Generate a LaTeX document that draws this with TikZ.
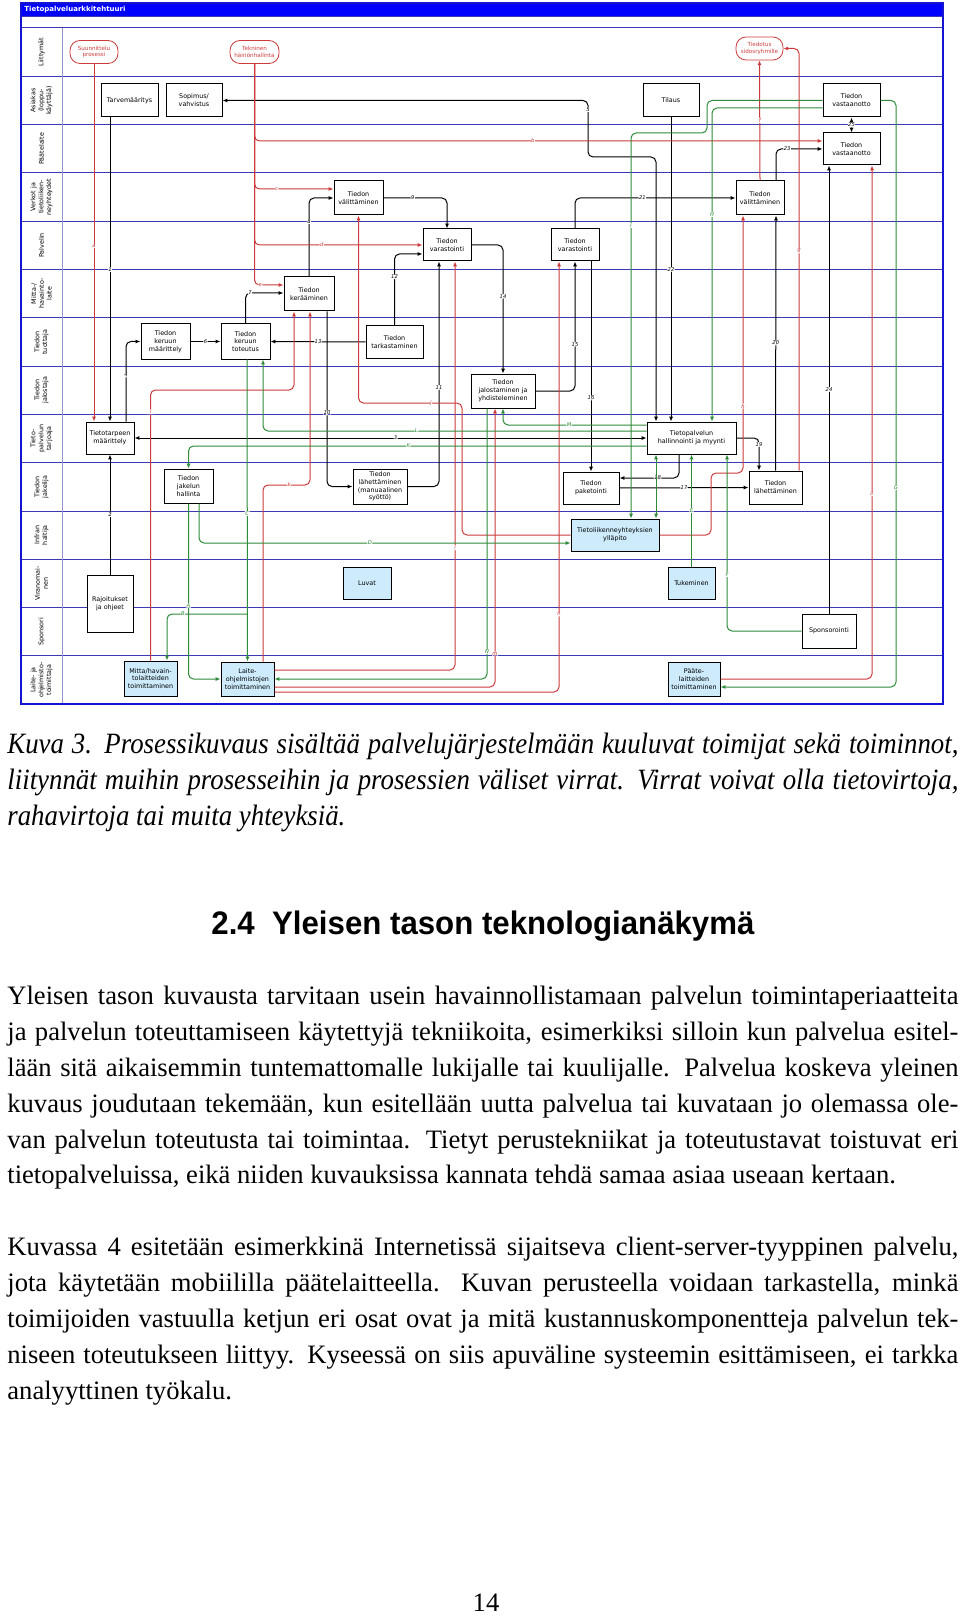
\documentclass[tikz,border=0pt]{standalone}
\usepackage{fontspec}
\usepackage{graphicx}
\setmainfont{Liberation Serif}
\setsansfont{DejaVu Sans}
\newfontfamily\headfont{Liberation Sans}
\usetikzlibrary{arrows.meta,calc}
\definecolor{laneblue}{HTML}{3A3AB4}
\definecolor{frameblue}{HTML}{1414D2}
\definecolor{titleblue}{HTML}{0000FF}
\definecolor{flowred}{HTML}{CC3B3B}
\definecolor{flowgreen}{HTML}{2E8B3A}
\definecolor{boxfill}{HTML}{CDEBFB}

\begin{document}
\begin{tikzpicture}[
  x=0.5pt, y=-0.5pt,
  >={Latex[length=2.4pt,width=2pt]},
  box/.style={draw, line width=0.5pt, fill=white, align=center, inner sep=0pt, font=\sffamily\fontsize{3.2}{3.9}\selectfont},
  supbox/.style={box, fill=boxfill},
  iface/.style={draw=flowred, text=flowred, rounded corners=5pt, fill=white, align=center, inner sep=0pt, line width=0.4pt, font=\sffamily\fontsize{2.8}{3.4}\selectfont},
  lanelbl/.style={rotate=90, align=center, inner sep=0pt, font=\sffamily\fontsize{3.2}{3.9}\selectfont},
  laneline/.style={laneblue, line width=0.5pt},
  blk/.style={draw=black, color=black, line width=0.5pt, rounded corners=2.5pt, ->},
  redf/.style={blk, draw=flowred, color=flowred},
  grnf/.style={blk, draw=flowgreen, color=flowgreen},
  lbl/.style={fill=white, inner sep=0.2pt, font=\sffamily\itshape\fontsize{2.6}{2.6}\selectfont},
  bodyline/.style={anchor=base west, inner sep=0pt, font=\fontsize{13.3}{15}\selectfont},
  capline/.style={bodyline, font=\itshape\fontsize{13.4}{15}\selectfont}
]
\useasboundingbox (0,0) rectangle (960,1615);
\fill[white] (0,0) rectangle (960,1615);

% lanes
\fill[titleblue] (21,3) rectangle (943,17);
\node[anchor=west, text=white, inner sep=0pt, font=\sffamily\bfseries\fontsize{3.5}{4}\selectfont] (title) at (24,10) {Tietopalveluarkkitehtuuri};
\draw[laneline] (21,17) -- (943,17);
\foreach \i in {0,...,13} {
  \draw[laneline] (21,{28+48.3*\i}) -- (943,{28+48.3*\i});
}
\draw[laneblue!55, line width=0.5pt] (62,28) -- (62,704);
\foreach \i/\txt in {0/Liittymät, 1/{Asiakas\\(loppu-\\käyttäjä)}, 2/Päätelaite,
  3/{Verkot ja\\tietoliiken-\\neyhteydet}, 4/Palvelin, 5/{Mitta-/\\havainto-\\laite},
  6/{Tiedon\\tuottaja}, 7/{Tiedon\\jalostaja}, 8/{Tieto-\\palvelun\\tarjoaja},
  9/{Tiedon\\jakelija}, 10/{Infran\\haltija}, 11/{Viranomai-\\nen}, 12/Sponsori,
  13/{Laite- ja\\ohjelmisto-\\toimittaja}} {
  \node[lanelbl] (lane\i) at (41.5,{52.15+48.3*\i}) {\txt};
}
\draw[frameblue, line width=1pt] (21,3) rectangle (943,704);

% interfaces
\node[iface, minimum width=24pt, minimum height=11.5pt] (suun) at (94,52) {Suunnittelu\\prosessi};
\node[iface, minimum width=24.5pt, minimum height=11.5pt] (tekn) at (254.5,52) {Tekninen\\häiriönhallinta};
\node[iface, minimum width=23.5pt, minimum height=11.5pt] (tiedotus) at (759.5,48.5) {Tiedotus\\sidosryhmille};

% activities
\node[box, minimum width=28.5pt, minimum height=16.5pt] (tarve) at (129.5,100.5) {Tarvemääritys};
\node[box, minimum width=28pt, minimum height=16.5pt] (sopimus) at (194,100.5) {Sopimus/\\vahvistus};
\node[box, minimum width=28pt, minimum height=16.5pt] (tilaus) at (671,100.5) {Tilaus};
\node[box, minimum width=28.5pt, minimum height=16.5pt] (vast1) at (851.5,100.5) {Tiedon\\vastaanotto};
\node[box, minimum width=28.5pt, minimum height=16pt] (vast2) at (851.5,149) {Tiedon\\vastaanotto};
\node[box, minimum width=24.5pt, minimum height=17pt] (valit1) at (358.5,198) {Tiedon\\välittäminen};
\node[box, minimum width=24pt, minimum height=17pt] (valit2) at (760,198) {Tiedon\\välittäminen};
\node[box, minimum width=24pt, minimum height=16pt] (var1) at (447,245) {Tiedon\\varastointi};
\node[box, minimum width=24pt, minimum height=16pt] (var2) at (575,245) {Tiedon\\varastointi};
\node[box, minimum width=25pt, minimum height=17pt] (keraa) at (309,294) {Tiedon\\kerääminen};
\node[box, minimum width=24.5pt, minimum height=17.5pt] (kmaar) at (165.5,341.5) {Tiedon\\keruun\\määrittely};
\node[box, minimum width=24.5pt, minimum height=17.5pt] (ktot) at (245.5,341.5) {Tiedon\\keruun\\toteutus};
\node[box, minimum width=28.5pt, minimum height=16pt] (tark) at (394.5,342) {Tiedon\\tarkastaminen};
\node[box, minimum width=32pt, minimum height=17pt] (jalo) at (503,391) {Tiedon\\jalostaminen ja\\yhdisteleminen};
\node[box, minimum width=24pt, minimum height=16pt] (ttarve) at (110,438) {Tietotarpeen\\määrittely};
\node[box, minimum width=44.5pt, minimum height=16pt] (tpalv) at (691.5,438) {Tietopalvelun\\hallinnointi ja myynti};
\node[box, minimum width=24.5pt, minimum height=17pt] (jakhal) at (188.5,486) {Tiedon\\jakelun\\hallinta};
\node[box, minimum width=27pt, minimum height=17.5pt] (lahman) at (380,486.5) {Tiedon\\lähettäminen\\(manuaalinen\\syöttö)};
\node[box, minimum width=28pt, minimum height=16pt] (paket) at (591,488) {Tiedon\\paketointi};
\node[box, minimum width=26.5pt, minimum height=16.5pt] (lah2) at (775.5,487.5) {Tiedon\\lähettäminen};
\node[supbox, minimum width=44pt, minimum height=16pt] (tlyp) at (615,535) {Tietoliikenneyhteyksien\\ylläpito};
\node[supbox, minimum width=24pt, minimum height=16pt] (luvat) at (367,583) {Luvat};
\node[supbox, minimum width=23.5pt, minimum height=16pt] (tuki) at (691.5,583) {Tukeminen};
\node[box, minimum width=23pt, minimum height=28.5pt] (rajo) at (110,603.5) {Rajoitukset\\ja ohjeet};
\node[box, minimum width=27pt, minimum height=17pt] (spons) at (829,631) {Sponsorointi};
\node[supbox, minimum width=26.5pt, minimum height=17.5pt] (mitta) at (150.5,678.5) {Mitta/havain-\\tolaitteiden\\toimittaminen};
\node[supbox, minimum width=26.5pt, minimum height=17pt] (laite) at (247.5,679) {Laite-\\ohjelmistojen\\toimittaminen};
\node[supbox, minimum width=26pt, minimum height=17pt] (paate) at (694,679) {Pääte-\\laitteiden\\toimittaminen};

% black flows
\draw[blk] ($(tarve.south)+(-19.5,0)$) -- node[lbl]{1} (ttarve.north);
\draw[blk] (rajo.north) -- node[lbl]{2} (ttarve.south);
\draw[blk,<->] (tpalv.west) -- node[lbl,pos=0.49]{3} (ttarve.east);
\draw[blk] ($(ttarve.north)+(16,0)$) |- node[lbl,pos=0.29]{4} (kmaar.west);
\draw[blk,<->] ($(tpalv.north)+(-35.5,0)$) |- (588,157) |- node[lbl,pos=0.42]{5} (sopimus.east);
\draw[blk] (kmaar.east) -- node[lbl]{6} (ktot.west);
\draw[blk] (ktot.north) |- node[lbl,pos=0.56]{7} ($(keraa.west)+(0,-1)$);
\draw[blk] (keraa.north) |- node[lbl,pos=0.35]{8} (valit1.west);
\draw[blk] (valit1.east) -| node[lbl,pos=0.23]{9} (var1.north);
\draw[blk] ($(keraa.south)+(18,0)$) |- node[lbl,pos=0.29]{10} (lahman.west);
\draw[blk] (lahman.east) -| node[lbl,pos=0.72]{11} ($(var1.south)+(-8,0)$);
\draw[blk] (tark.north) |- node[lbl,pos=0.34]{12} ($(var1.west)+(0,9)$);
\draw[blk] (tark.west) -- node[lbl]{13} (ktot.east);
\draw[blk] (var1.east) -| node[lbl,pos=0.7]{14} (jalo.north);
\draw[blk] (jalo.east) -| node[lbl,pos=0.68]{15} (var2.south);
\draw[blk] ($(var2.south)+(16,0)$) -- node[lbl,pos=0.65]{16} (paket.north);
\draw[blk] (paket.east) -- node[lbl]{17} (lah2.west);
\draw[blk] ($(tpalv.south)+(-12.5,0)$) |- node[lbl,pos=0.68]{18} ($(paket.east)+(0,-10)$);
\draw[blk] (tpalv.east) -| node[lbl,pos=0.6]{19} ($(lah2.north)+(-16.5,0)$);
\draw[blk] (lah2.north) -- node[lbl]{20} ($(valit2.south)+(16,0)$);
\draw[blk] (var2.north) |- node[lbl,pos=0.71]{21} (valit2.west);
\draw[blk] (tilaus.south) -- node[lbl]{22} ($(tpalv.north)+(-20.5,0)$);
\draw[blk] ($(valit2.north)+(16,0)$) |- node[lbl,pos=0.62]{23} (vast2.west);
\draw[blk] (spons.north) -- node[lbl]{24} ($(vast2.south)+(-22.5,0)$);
\draw[blk,<->] (vast1.south) -- node[lbl]{25} (vast2.north);

% red flows
\draw[redf] (suun.south) -- node[lbl,pos=0.51]{a} ($(ttarve.north)+(-16,0)$);
\draw[redf] (tekn.south) |- node[lbl,pos=0.745]{b} ($(vast2.west)+(0,-8)$);
\draw[redf] (tekn.south) |- node[lbl,pos=0.64]{c} ($(valit1.west)+(0,-9)$);
\draw[redf] (tekn.south) |- node[lbl,pos=0.7]{d} (var1.west);
\draw[redf] (tekn.south) |- node[lbl,pos=0.6]{e} ($(keraa.west)+(0,-9)$);
\draw[redf] (valit2.north) -- node[lbl]{f} (tiedotus.south);
\draw[redf] ($(lah2.north)+(23.5,0)$) |- node[lbl,pos=0.26]{g} (tiedotus.east);
\draw[redf] (tlyp.east) -| (711,473) -| node[lbl,pos=0.63]{h} ($(valit2.south)+(-17,0)$);
\draw[redf] (mitta.north) |- node[lbl,pos=0.46]{i} (294,390) -- ($(keraa.south)+(-15,0)$);
\draw[redf] (tlyp.west) -| (462,403) -| node[lbl,pos=0.15]{j} (valit1.south);
\draw[redf] ($(laite.north)+(15.5,0)$) |- node[lbl,pos=0.78]{k} (310,485) -- ($(keraa.south)+(1,0)$);
\draw[redf] ($(laite.east)+(0,-9)$) -| node[lbl,pos=0.65]{l} ($(var1.south)+(8,0)$);
\draw[redf] ($(laite.east)+(0,8)$) -| node[lbl,pos=0.56]{m} ($(jalo.south)+(-8,0)$);
\draw[redf] ($(laite.east)+(0,13)$) -| node[lbl,pos=0.59]{n} ($(var2.south)+(-16,0)$);
\draw[redf] (paate.east) -| node[lbl,pos=0.68]{o} ($(vast2.south)+(20.5,0)$);

% green flows
\coordinate (cB) at (247,614);
\draw[grnf] (jakhal.south) |- node[lbl,pos=0.29]{A} (laite.west);
\draw[grnf] (cB) -| node[lbl,pos=0.4]{B} ($(mitta.north)+(16.5,0)$);
\draw[grnf] ($(ktot.south)+(1.5,0)$) -- node[lbl,pos=0.51]{C} (laite.north);
\draw[grnf] ($(jakhal.south)+(10.5,0)$) |- node[lbl,pos=0.73]{D} ($(tlyp.west)+(0,8)$);
\draw[grnf] (tuki.north) -- node[lbl]{E} (tpalv.south);
\draw[grnf] (spons.west) -| node[lbl,pos=0.66]{F} ($(tpalv.south)+(35.5,0)$);
\draw[grnf] (vast1.east) -| node[lbl,pos=0.83]{G} (896,687) -- ($(paate.east)+(0,8)$);
\draw[grnf] ($(vast1.west)+(0,7.5)$) -| node[lbl,pos=0.67]{H} ($(tpalv.north)+(20.5,0)$);
\draw[grnf] (vast1.west) -| (707,133) -| node[lbl,pos=0.62]{I} ($(tlyp.north)+(16,0)$);
\draw[grnf] ($(tpalv.west)+(0,8)$) -| node[lbl,pos=0.26]{K} (jakhal.north);
\draw[grnf] ($(tpalv.west)+(0,-7)$) -| node[lbl,pos=0.3]{L} ($(ktot.south)+(17.5,0)$);
\draw[grnf] ($(tpalv.west)+(0,-13)$) -| node[lbl,pos=0.27]{M} (jalo.south);
\draw[grnf] ($(jalo.south)+(-16,0)$) |- node[lbl,pos=0.45]{N} (laite.east);
\draw[grnf,<->] ($(tpalv.south)+(-35.5,0)$) -- ($(tlyp.north)+(41,0)$);

% caption
\node[capline] (cap1) at (7,753) {\scalebox{1}[1.1]{\makebox[475.5pt][s]{Kuva 3. Prosessikuvaus sisältää palvelujärjestelmään kuuluvat toimijat sekä toiminnot,}}};
\node[capline] (cap2) at (7,789) {\scalebox{1}[1.1]{\makebox[475.5pt][s]{liitynnät muihin prosesseihin ja prosessien väliset virrat. Virrat voivat olla tietovirtoja,}}};
\node[capline] (cap3) at (7,825) {\scalebox{1}[1.1]{rahavirtoja tai muita yhteyksiä.}};

% heading
\node[anchor=base west, inner sep=0pt] (head) at (211,934) {\resizebox{271.5pt}{11.8pt}{\headfont\bfseries 2.4\ \ Yleisen tason teknologianäkymä}};

% paragraphs
\node[bodyline] (p1a) at (7,1004) {\makebox[475.5pt][s]{Yleisen tason kuvausta tarvitaan usein havainnollistamaan palvelun toimintaperiaatteita}};
\node[bodyline] (p1b) at (7,1040) {\makebox[475.5pt][s]{ja palvelun toteuttamiseen käytettyjä tekniikoita, esimerkiksi silloin kun palvelua esitel-}};
\node[bodyline] (p1c) at (7,1076) {\makebox[475.5pt][s]{lään sitä aikaisemmin tuntemattomalle lukijalle tai kuulijalle. Palvelua koskeva yleinen}};
\node[bodyline] (p1d) at (7,1112) {\makebox[475.5pt][s]{kuvaus joudutaan tekemään, kun esitellään uutta palvelua tai kuvataan jo olemassa ole-}};
\node[bodyline] (p1e) at (7,1148) {\makebox[475.5pt][s]{van palvelun toteutusta tai toimintaa. Tietyt perustekniikat ja toteutustavat toistuvat eri}};
\node[bodyline] (p1f) at (7,1183) {tietopalveluissa, eikä niiden kuvauksissa kannata tehdä samaa asiaa useaan kertaan.};

\node[bodyline] (p2a) at (7,1255) {\makebox[475.5pt][s]{Kuvassa 4 esitetään esimerkkinä Internetissä sijaitseva client-server-tyyppinen palvelu,}};
\node[bodyline] (p2b) at (7,1291) {\makebox[475.5pt][s]{jota käytetään mobiililla päätelaitteella. Kuvan perusteella voidaan tarkastella, minkä}};
\node[bodyline] (p2c) at (7,1327) {\makebox[475.5pt][s]{toimijoiden vastuulla ketjun eri osat ovat ja mitä kustannuskomponentteja palvelun tek-}};
\node[bodyline] (p2d) at (7,1363) {\makebox[475.5pt][s]{niseen toteutukseen liittyy. Kyseessä on siis apuväline systeemin esittämiseen, ei tarkka}};
\node[bodyline] (p2e) at (7,1399) {analyyttinen työkalu.};

\node[anchor=base, inner sep=0pt, font=\fontsize{13.3}{15}\selectfont] (pagenum) at (486,1611) {14};
\end{tikzpicture}
\end{document}
